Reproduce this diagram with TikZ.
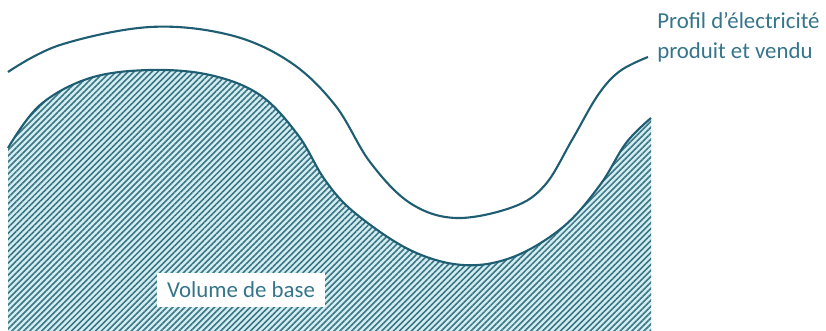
\documentclass[tikz,border=0pt]{standalone}
\usepackage{fontspec}
\setmainfont{Carlito}
\usetikzlibrary{patterns.meta,positioning}
\definecolor{ink}{HTML}{1F5E72}
\definecolor{hatch}{HTML}{3C7483}
\definecolor{pale}{HTML}{D2EEF2}
\definecolor{label}{HTML}{35758A}

\begin{document}
\begin{tikzpicture}[x=0.02cm,y=-0.02cm,font=\fontsize{13pt}{17pt}\selectfont]
\useasboundingbox (0,0) rectangle (826,331);
\tikzset{profile/.style={draw=ink,line width=1.2pt},
  base/.style={fill=pale,postaction={pattern={Lines[angle=45,distance=2.4pt,line width=0.9pt]},pattern color=hatch}}}
\begin{scope}
\clip (0,0) rectangle (826,331);
\path[base] (8,340) -- plot[smooth,tension=0.6] coordinates {(8,148) (40,105) (90,78) (150,70) (210,75) (260,95) (298,135) (325,180) (355,213) (410,250) (463,265) (513,257) (563,227) (600,185) (626,143) (651,118)} -- (651,340) -- cycle;
\end{scope}
\draw[profile] plot[smooth,tension=0.6] coordinates {(8,148) (40,105) (90,78) (150,70) (210,75) (260,95) (298,135) (325,180) (355,213) (410,250) (463,265) (513,257) (563,227) (600,185) (626,143) (651,118)};
\node[anchor=west,inner sep=0pt,align=left,text=label] (prof) at (657,37) {Profil d’électricité\\produit et vendu};
\coordinate (pend) at (648,57);
\draw[profile] plot[smooth,tension=0.6] coordinates {(8,72) (60,45) (150,27) (230,35) (290,62) (335,105) (370,162) (410,203) (456,218) (513,207) (545,185) (572,140) (598,95) (620,71) (pend)};
\node[fill=white,text=label,inner sep=0pt,minimum width=3.36cm,minimum height=0.7cm] (vol) at (241,290) {Volume de base};
\end{tikzpicture}
\end{document}
